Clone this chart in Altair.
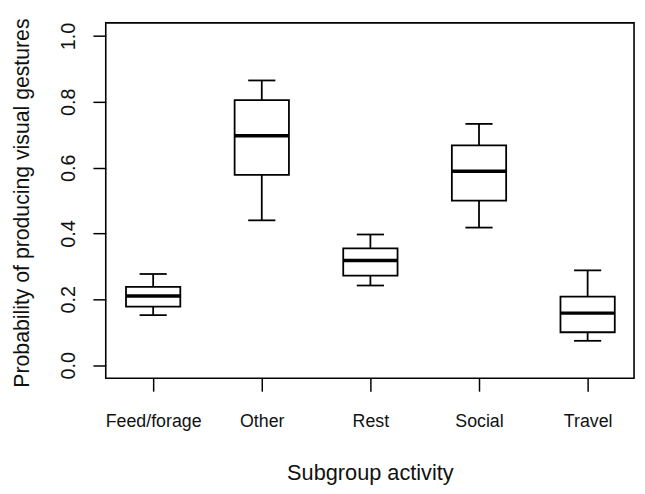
import altair as alt
import pandas as pd

# Data
categories = ["Feed/forage", "Other", "Rest", "Social", "Travel"]
positions = [1, 2, 3, 4, 5]
lower_whisker = [0.152, 0.440, 0.242, 0.418, 0.074]
q1 = [0.178, 0.578, 0.272, 0.500, 0.100]
median = [0.210, 0.697, 0.318, 0.589, 0.158]
q3 = [0.238, 0.805, 0.355, 0.668, 0.208]
upper_whisker = [0.277, 0.865, 0.397, 0.733, 0.288]

y_ticks = [0.0, 0.2, 0.4, 0.6, 0.8, 1.0]

df = pd.DataFrame({
    "cat": categories,
    "pos": positions,
    "lo": lower_whisker,
    "q1": q1,
    "med": median,
    "q3": q3,
    "hi": upper_whisker,
})

FONT = "Liberation Sans"
TXT = "#111111"

label_list = "[" + ",".join("'" + c + "'" for c in categories) + "]"

x_scale = alt.Scale(domain=[0.5636, 5.4273], nice=False, zero=False)
y_scale = alt.Scale(domain=[-0.04, 1.04], nice=False, zero=False)

x_axis = alt.Axis(
    values=positions,
    labelExpr=label_list + "[datum.value - 1]",
    title="Subgroup activity",
    grid=False,
    domain=False,
    ticks=True,
    tickSize=13,
    tickWidth=1.5,
    tickColor="black",
    labelFont=FONT,
    labelFontSize=18,
    labelColor=TXT,
    labelBaseline="alphabetic",
    labelPadding=36,
    labelFlush=False,
    labelOverlap=False,
    titleFont=FONT,
    titleFontSize=22,
    titleFontWeight="normal",
    titleColor=TXT,
    titleBaseline="alphabetic",
    titleY=102,
)

y_axis = alt.Axis(
    values=y_ticks,
    format=".1f",
    title="Probability of producing visual gestures",
    grid=False,
    domain=False,
    ticks=True,
    tickSize=13,
    tickWidth=1.5,
    tickColor="black",
    labelFont=FONT,
    labelFontSize=20,
    labelColor=TXT,
    labelAngle=270,
    labelAlign="center",
    labelBaseline="alphabetic",
    labelPadding=19,
    labelFlush=False,
    labelOverlap=False,
    titleFont=FONT,
    titleFontSize=21.5,
    titleFontWeight="normal",
    titleColor=TXT,
    titleAngle=270,
    titleAlign="center",
    titleBaseline="alphabetic",
    titleX=-78,
    titleY=182,
)

base = alt.Chart(df).transform_calculate(
    bl="datum.pos - 0.25",
    br="datum.pos + 0.25",
    cl="datum.pos - 0.125",
    cr="datum.pos + 0.125",
)

whisker = base.mark_rule(color="black", strokeWidth=1.8).encode(
    x=alt.X("pos:Q", scale=x_scale, axis=x_axis),
    y=alt.Y("lo:Q", scale=y_scale, axis=y_axis),
    y2="hi:Q",
)

cap_lo = base.mark_rule(color="black", strokeWidth=1.8).encode(
    x=alt.X("cl:Q", scale=x_scale), x2="cr:Q",
    y=alt.Y("lo:Q", scale=y_scale),
)
cap_hi = base.mark_rule(color="black", strokeWidth=1.8).encode(
    x=alt.X("cl:Q", scale=x_scale), x2="cr:Q",
    y=alt.Y("hi:Q", scale=y_scale),
)

box = base.mark_rect(fill="white", stroke="black", strokeWidth=1.8).encode(
    x=alt.X("bl:Q", scale=x_scale), x2="br:Q",
    y=alt.Y("q1:Q", scale=y_scale), y2="q3:Q",
)

med_line = base.mark_rule(color="black", strokeWidth=3.4).encode(
    x=alt.X("bl:Q", scale=x_scale), x2="br:Q",
    y=alt.Y("med:Q", scale=y_scale),
)

chart = alt.layer(whisker, cap_lo, cap_hi, box, med_line).properties(
    width=535,
    height=360,
    autosize=alt.AutoSizeParams(type="none"),
    padding={"left": 99, "top": 12, "right": 3, "bottom": 106},
    background="white",
).configure_view(
    stroke="black",
    strokeWidth=1.6,
)

chart.save("out.html", embed_options={"renderer": "svg", "actions": False})
